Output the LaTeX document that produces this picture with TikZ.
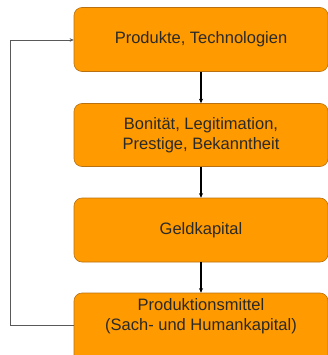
\documentclass[tikz,border=0pt]{standalone}
\usepackage{fontspec}
\setmainfont{Liberation Sans}
\usetikzlibrary{arrows.meta}
\definecolor{boxfill}{HTML}{FF9A00}
\definecolor{boxline}{HTML}{B87010}
\definecolor{txt}{HTML}{2A2A2A}
\begin{document}
\begin{tikzpicture}[x=1pt,y=-1pt,
  box/.style={draw=boxline, line width=0.6pt, fill=boxfill, rounded corners=8pt,
    minimum width=254pt, inner sep=0pt, align=center, text=txt,
    font=\fontsize{16.5}{20}\selectfont},
  label/.style={inner sep=0pt, align=center, text=txt,
    font=\fontsize{16.5}{20}\selectfont},
  flow/.style={draw=black, line width=1.3pt, -{Stealth[length=4.5pt,width=4pt]}},
  back/.style={draw=black!65, line width=0.7pt, -{Stealth[length=4pt,width=3.5pt]}}]
\useasboundingbox (0,0) rectangle (328,355);
\clip (0,0) rectangle (328,355);
\node[box, minimum height=64pt] (b1) at (201,39.5) {Produkte, Technologien};
\node[box, minimum height=63pt] (b2) at (201,135) {Bonität, Legitimation,\\Prestige, Bekanntheit};
\node[box, minimum height=64pt] (b3) at (201,230) {Geldkapital};
\node[box, minimum height=74pt] (b4) at (201,330) {};
\node[label] (b4t) at (201,316) {Produktionsmittel\\(Sach- und Humankapital)};
\draw[flow] (b1) -- (b2);
\draw[flow] (b2) -- (b3);
\draw[flow] (b3) -- (b4);
\coordinate (c1) at (10,325);
\coordinate (c2) at (10,40);
\draw[back] (b4.west |- c1) -- (c1) -- (c2) -- (b1.west |- c2);
\end{tikzpicture}
\end{document}
